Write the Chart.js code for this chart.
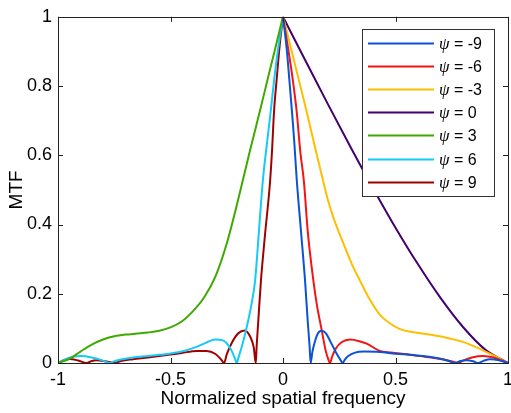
<!DOCTYPE html>
<html>
<head>
<meta charset="utf-8">
<script src="https://cdn.jsdelivr.net/npm/chart.js@4/dist/chart.umd.min.js"></script>
<style>
    html, body { margin: 0; padding: 0; background: #fff; }
</style>
</head>
<body>
<canvas id="mtfChart" width="511" height="413"></canvas>
<script>
// psi = -9
const freqNeg9 = [0, 0.016, 0.028, 0.04, 0.05, 0.061, 0.08, 0.098, 0.11, 0.118, 0.123, 0.13, 0.14, 0.155, 0.172, 0.19, 0.21, 0.24, 0.258, 0.265, 0.275, 0.29, 0.32, 0.36, 0.43, 0.5, 0.58, 0.65, 0.7, 0.74, 0.764, 0.79, 0.816, 0.845, 0.868, 0.89, 0.92, 0.96, 1];
const mtfNeg9 = [1, 0.91, 0.82, 0.725, 0.64, 0.53, 0.38, 0.238, 0.12, 0.05, 0, 0.03, 0.058, 0.085, 0.093, 0.086, 0.063, 0.025, 0.006, 0, 0.01, 0.02, 0.03, 0.033, 0.032, 0.027, 0.023, 0.018, 0.012, 0.005, 0, 0.006, 0.008, 0.005, 0, 0.006, 0.011, 0.008, 0];

// psi = -6
const freqNeg6 = [0, 0.021, 0.043, 0.061, 0.077, 0.093, 0.11, 0.135, 0.15, 0.172, 0.19, 0.2, 0.209, 0.218, 0.235, 0.26, 0.298, 0.34, 0.372, 0.43, 0.48, 0.55, 0.61, 0.68, 0.73, 0.76, 0.779, 0.8, 0.84, 0.89, 0.94, 0.97, 1];
const mtfNeg6 = [1, 0.916, 0.82, 0.725, 0.61, 0.524, 0.38, 0.238, 0.17, 0.095, 0.035, 0.013, 0, 0.018, 0.042, 0.06, 0.068, 0.063, 0.056, 0.035, 0.03, 0.025, 0.02, 0.014, 0.008, 0.003, 0, 0.007, 0.016, 0.02, 0.015, 0.008, 0];

// psi = -3
const freqNeg3 = [0, 0.033, 0.075, 0.1, 0.147, 0.179, 0.2, 0.224, 0.25, 0.276, 0.31, 0.342, 0.38, 0.43, 0.476, 0.52, 0.57, 0.65, 0.72, 0.8, 0.85, 0.9, 0.95, 1];
const mtfNeg3 = [1, 0.916, 0.805, 0.74, 0.61, 0.524, 0.47, 0.42, 0.375, 0.333, 0.28, 0.238, 0.19, 0.14, 0.114, 0.098, 0.09, 0.082, 0.074, 0.061, 0.048, 0.033, 0.017, 0];

// psi = 0
const freqZero = [0, 0.1, 0.2, 0.3, 0.4, 0.5, 0.6, 0.7, 0.8, 0.9, 1];
const mtfZero = [1, 0.873, 0.747, 0.624, 0.505, 0.391, 0.285, 0.188, 0.104, 0.038, 0];

// psi = 3
const freqPos3 = [-1, -0.95, -0.9, -0.85, -0.8, -0.75, -0.7, -0.65, -0.6, -0.55, -0.5, -0.45, -0.4, -0.35, -0.3, -0.25, -0.2, -0.148, -0.098, -0.067, -0.033, 0];
const mtfPos3 = [0, 0.012, 0.033, 0.053, 0.068, 0.077, 0.082, 0.085, 0.088, 0.093, 0.103, 0.12, 0.15, 0.19, 0.25, 0.345, 0.47, 0.61, 0.74, 0.823, 0.913, 1];

// psi = 6
const freqPos6 = [-1, -0.95, -0.9, -0.85, -0.8, -0.785, -0.77, -0.755, -0.72, -0.667, -0.6, -0.517, -0.45, -0.4, -0.35, -0.302, -0.27, -0.25, -0.228, -0.212, -0.205, -0.198, -0.18, -0.161, -0.14, -0.124, -0.107, -0.09, -0.073, -0.055, -0.039, -0.02, 0];
const mtfPos6 = [0, 0.015, 0.02, 0.016, 0.007, 0.003, 0, 0.004, 0.01, 0.016, 0.02, 0.026, 0.033, 0.043, 0.056, 0.068, 0.066, 0.057, 0.035, 0.01, 0, 0.015, 0.055, 0.104, 0.17, 0.238, 0.38, 0.524, 0.625, 0.725, 0.82, 0.916, 1];

// psi = 9
const freqPos9 = [-1, -0.975, -0.947, -0.91, -0.873, -0.85, -0.83, -0.79, -0.765, -0.747, -0.72, -0.667, -0.6, -0.517, -0.45, -0.384, -0.34, -0.3, -0.275, -0.262, -0.25, -0.23, -0.2, -0.17, -0.145, -0.13, -0.121, -0.117, -0.11, -0.098, -0.08, -0.058, -0.049, -0.04, -0.028, -0.015, 0];
const mtfPos9 = [0, 0.008, 0.0115, 0.007, 0, 0.006, 0.008, 0.005, 0.002, 0, 0.006, 0.011, 0.016, 0.023, 0.029, 0.035, 0.035, 0.026, 0.01, 0, 0.025, 0.055, 0.085, 0.094, 0.075, 0.045, 0, 0.05, 0.12, 0.238, 0.37, 0.52, 0.61, 0.725, 0.82, 0.916, 1];

const psiLabels = ['\u03c8 = -9', '\u03c8 = -6', '\u03c8 = -3', '\u03c8 = 0', '\u03c8 = 3', '\u03c8 = 6', '\u03c8 = 9'];
const lineColors = ['#0a52d6', '#f51414', '#ffbe00', '#44006e', '#3fa900', '#14caf8', '#a00000'];

const xTicks = [-1, -0.5, 0, 0.5, 1];
const yTicks = [0, 0.2, 0.4, 0.6, 0.8, 1];

let toPoints = (xs, ys) => xs.map((x, i) => ({x: x, y: ys[i]}));

let seriesX = [freqNeg9, freqNeg6, freqNeg3, freqZero, freqPos3, freqPos6, freqPos9];
let seriesY = [mtfNeg9, mtfNeg6, mtfNeg3, mtfZero, mtfPos3, mtfPos6, mtfPos9];

let datasets = psiLabels.map((label, i) => ({
    label: label,
    data: toPoints(seriesX[i], seriesY[i]),
    borderColor: lineColors[i],
    backgroundColor: lineColors[i],
    borderWidth: 2,
    pointRadius: 0,
    fill: false,
    cubicInterpolationMode: 'monotone'
}));

// matlab style box with inward ticks on all sides
let boxPlugin = {
    id: 'boxTicks',
    afterDatasetsDraw(chart) {
        let {ctx, chartArea: a, scales} = chart;
        let len = 5;
        ctx.save();
        ctx.strokeStyle = '#222';
        ctx.lineWidth = 1;
        ctx.beginPath();
        xTicks.forEach(v => {
            let px = Math.round(scales.x.getPixelForValue(v)) + 0.5;
            ctx.moveTo(px, a.bottom); ctx.lineTo(px, a.bottom - len);
            ctx.moveTo(px, a.top); ctx.lineTo(px, a.top + len);
        });
        yTicks.forEach(v => {
            let py = Math.round(scales.y.getPixelForValue(v)) + 0.5;
            ctx.moveTo(a.left, py); ctx.lineTo(a.left + len, py);
            ctx.moveTo(a.right, py); ctx.lineTo(a.right - len, py);
        });
        ctx.stroke();
        ctx.strokeRect(Math.round(a.left) + 0.5, Math.round(a.top) + 0.5,
            Math.round(a.right - a.left), Math.round(a.bottom - a.top));
        ctx.restore();
    }
};

let legendPlugin = {
    id: 'boxLegend',
    afterDraw(chart) {
        let ctx = chart.ctx;
        let left = 362, top = 29, w = 132, h = 167;
        let rowY = 43, rowStep = 23.1;
        ctx.save();
        ctx.fillStyle = '#fff';
        ctx.fillRect(left, top, w, h);
        ctx.strokeStyle = '#333';
        ctx.lineWidth = 1;
        ctx.strokeRect(left + 0.5, top + 0.5, w, h);
        chart.data.datasets.forEach((ds, i) => {
            let y = Math.round(rowY + i * rowStep) + 0.5;
            ctx.strokeStyle = ds.borderColor;
            ctx.lineWidth = 2;
            ctx.beginPath();
            ctx.moveTo(368, y);
            ctx.lineTo(434, y);
            ctx.stroke();
            ctx.fillStyle = '#000';
            ctx.textBaseline = 'middle';
            ctx.font = 'italic 17px "Liberation Serif"';
            ctx.fillText(ds.label.slice(0, 1), 439, y + 1);
            let psiW = ctx.measureText(ds.label.slice(0, 1)).width;
            ctx.font = '16px "Liberation Sans"';
            ctx.fillText(ds.label.slice(1), 439 + psiW, y + 1);
        });
        ctx.restore();
    }
};

new Chart(document.getElementById('mtfChart'), {
    type: 'line',
    data: {datasets: datasets},
    options: {
        responsive: false,
        animation: false,
        devicePixelRatio: 1,
        layout: {padding: {top: 13, right: 3, left: 0, bottom: 0}},
        plugins: {
            legend: {display: false},
            tooltip: {enabled: false}
        },
        scales: {
            x: {
                type: 'linear',
                min: -1,
                max: 1,
                afterBuildTicks: scale => { scale.ticks = xTicks.map(v => ({value: v})); },
                afterFit: scale => {
                    scale.height = 50;
                    scale.paddingLeft = 0;
                    scale.paddingRight = 0;
                },
                grid: {display: false, drawTicks: false},
                border: {display: false},
                ticks: {
                    color: '#000',
                    padding: 6,
                    font: {family: 'Liberation Sans', size: 18},
                    callback: v => String(v)
                },
                title: {
                    display: true,
                    text: 'Normalized spatial frequency',
                    color: '#000',
                    padding: {top: 0, bottom: 3},
                    font: {family: 'Liberation Sans', size: 19}
                }
            },
            y: {
                min: 0,
                max: 1,
                afterBuildTicks: scale => { scale.ticks = yTicks.map(v => ({value: v})); },
                afterFit: scale => { scale.width = 58; },
                grid: {display: false, drawTicks: false},
                border: {display: false},
                ticks: {
                    color: '#000',
                    padding: 6,
                    font: {family: 'Liberation Sans', size: 18},
                    callback: v => String(v)
                },
                title: {
                    display: true,
                    text: 'MTF',
                    color: '#000',
                    padding: {top: 5, bottom: 0},
                    font: {family: 'Liberation Sans', size: 19}
                }
            }
        }
    },
    plugins: [boxPlugin, legendPlugin]
});
</script>
</body>
</html>
